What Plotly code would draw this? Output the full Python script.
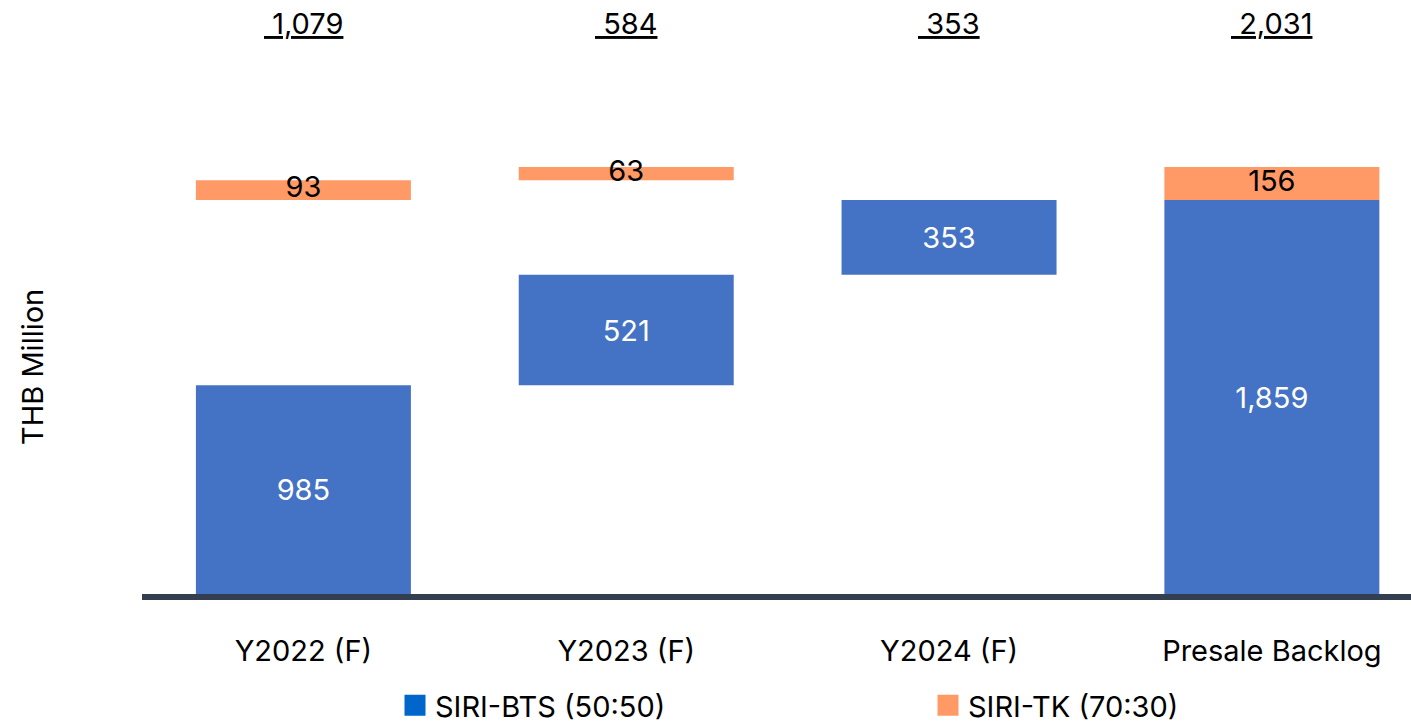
import plotly.graph_objects as go

categories = ["Y2022 (F)", "Y2023 (F)", "Y2024 (F)", "Presale Backlog"]
bts_values = [985, 521, 353, 1859]      # SIRI-BTS (50:50)
tk_values = [93, 63, None, 156]         # SIRI-TK (70:30)
totals = [1079, 584, 353, 2031]         # headline totals (as printed)

# waterfall bases: yearly steps stack up, backlog starts at zero
bts_base = []
run = 0
for i, v in enumerate(bts_values):
    if i == len(bts_values) - 1:
        bts_base.append(0)
    else:
        bts_base.append(run)
        run += v
tk_base = []
run = bts_values[-1]
for i, v in enumerate(tk_values):
    if i == len(tk_values) - 1:
        tk_base.append(bts_values[-1])
    elif v is None:
        tk_base.append(None)
    else:
        tk_base.append(run)
        run += v

BLUE = "#4472C4"
ORANGE = "#FF9966"
FONT = "Inter"
FS = 29

fig = go.Figure()
fig.add_trace(go.Bar(
    x=categories, y=bts_values, base=bts_base, width=0.666,
    marker=dict(color=BLUE, line=dict(width=0)),
    text=[f"{v:,}" for v in bts_values], textposition="inside",
    insidetextanchor="middle", textangle=0,
    textfont=dict(color="white", size=FS, family=FONT),
    showlegend=False, hoverinfo="skip",
))
tk_x = [c for c, v in zip(categories, tk_values) if v is not None]
tk_y = [v for v in tk_values if v is not None]
tk_b = [b for b, v in zip(tk_base, tk_values) if v is not None]
fig.add_trace(go.Bar(
    x=tk_x, y=tk_y, base=tk_b, width=0.666,
    marker=dict(color=ORANGE, line=dict(width=0)),
    showlegend=False, hoverinfo="skip",
))
fig.add_trace(go.Scatter(
    x=tk_x, y=[b + v / 2 for b, v in zip(tk_b, tk_y)],
    mode="text", text=[f"{v:,}" for v in tk_y],
    textfont=dict(color="black", size=FS, family=FONT),
    textposition="middle center", cliponaxis=False,
    showlegend=False, hoverinfo="skip",
))
# legend entries
fig.add_trace(go.Scatter(
    x=[None], y=[None], mode="markers", name="SIRI-BTS (50:50)",
    marker=dict(symbol="square", size=24, color="#0066CC",
                line=dict(color="#0066CC", width=5)),
    legend="legend",
))
fig.add_trace(go.Scatter(
    x=[None], y=[None], mode="markers", name="SIRI-TK (70:30)",
    marker=dict(symbol="square", size=24, color=ORANGE,
                line=dict(color=ORANGE, width=5)),
    legend="legend2",
))

for c, t in zip(categories, totals):
    fig.add_annotation(
        x=c, xref="x", y=1.154, yref="paper", yanchor="middle", xanchor="center",
        text=f" {t:,}", showarrow=False,
        font=dict(size=FS, color="black", family=FONT, lineposition="under"),
    )

fig.add_annotation(
    x=-0.0867, xref="paper", y=0.4595, yref="paper",
    xanchor="center", yanchor="middle",
    text="THB Million", textangle=-90, showarrow=False,
    font=dict(size=FS, color="black", family=FONT),
)

legend_common = dict(
    orientation="h", yanchor="top", y=-0.174, xanchor="left",
    font=dict(size=FS, color="black", family=FONT),
    bgcolor="rgba(0,0,0,0)", itemsizing="trace", borderwidth=0,
)

fig.update_layout(
    width=1411, height=725,
    margin=dict(l=142, r=0, t=100, b=131, pad=0, autoexpand=False),
    plot_bgcolor="white", paper_bgcolor="white",
    barmode="overlay",
    font=dict(family=FONT, size=FS, color="black"),
    xaxis=dict(
        range=[-0.5, 3.431], showgrid=False, zeroline=False,
        showline=True, linecolor="#333F50", linewidth=6,
        ticks="", ticklabelstandoff=26,
        tickfont=dict(size=FS, color="black", family=FONT),
        fixedrange=True,
    ),
    yaxis=dict(
        range=[0, 2331], showgrid=False, zeroline=False,
        showline=False, showticklabels=False, ticks="",
        fixedrange=True,
    ),
    legend=dict(x=(395 - 142) / 1269, **legend_common),
    legend2=dict(x=(928 - 142) / 1269, **legend_common),
)

fig.write_html("out.html")
